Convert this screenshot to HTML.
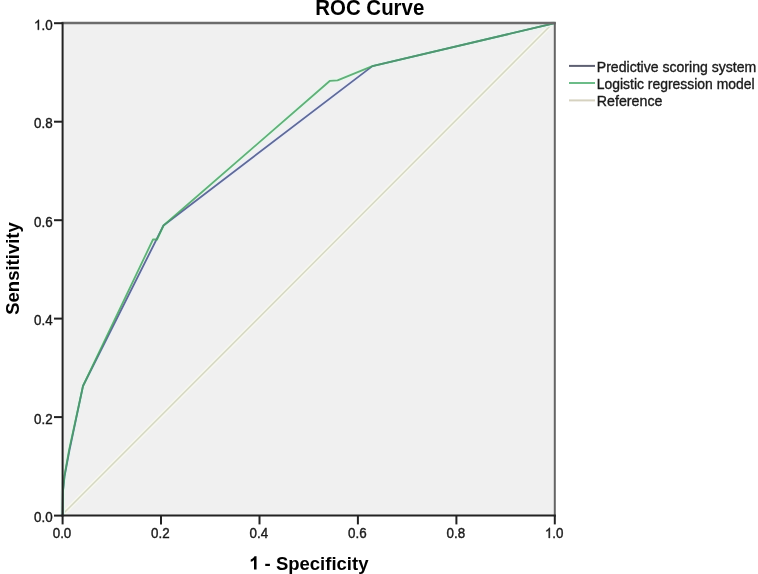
<!DOCTYPE html>
<html>
<head>
<meta charset="utf-8">
<style>
html,body{margin:0;padding:0;background:#fff;}
body{width:758px;height:574px;overflow:hidden;position:relative;font-family:"Liberation Sans", sans-serif;}
svg{position:absolute;left:0;top:0;filter:blur(0.35px);}
text{font-family:"Liberation Sans", sans-serif;}
</style>
</head>
<body>
<svg width="758" height="574" viewBox="0 0 758 574">
  <rect x="62.6" y="23.2" width="492.2" height="492.4" fill="#f0f0f0"/>
  <text x="369.8" y="15.1" font-size="21.5" font-weight="bold" text-anchor="middle" fill="#000" textLength="109" lengthAdjust="spacingAndGlyphs">ROC Curve</text>

  <defs><clipPath id="pc"><rect x="62.6" y="23.2" width="492.2" height="492.4"/></clipPath></defs>
  <g clip-path="url(#pc)">
  <line x1="62.6" y1="514.33" x2="554.8" y2="21.24" stroke="#f7f8ee" stroke-width="4.5"/>
  <line x1="62.6" y1="514.33" x2="554.8" y2="21.24" stroke="#d6d8c4" stroke-width="1.5"/>
  </g>
  <polyline fill="none" stroke="#eceef8" stroke-width="4.5" stroke-linejoin="round" points="62.6,515.6 62.9,492.0 64.6,476.0 69.5,450.0 83.0,386.0 163.5,225.5 372.4,66.1 554.8,23.2"/>
  <polyline fill="none" stroke="#e6f7ec" stroke-width="4.5" stroke-linejoin="round" points="62.6,515.6 62.9,492.0 64.4,476.0 69.1,450.0 83.0,386.0 153.0,239.5 157.0,239.5 163.5,225.5 330.0,80.8 337.5,80.3 372.4,66.1 554.8,23.2"/>
  <polyline fill="none" stroke="#5f6a98" stroke-width="1.8" stroke-linejoin="round" points="62.6,515.6 62.9,492.0 64.6,476.0 69.5,450.0 83.0,386.0 163.5,225.5 372.4,66.1 554.8,23.2"/>
  <polyline fill="none" stroke="#4aa265" stroke-width="1.8" stroke-linejoin="round" stroke-opacity="0.85" points="62.6,515.6 62.9,492.0 64.4,476.0 69.1,450.0 83.0,386.0 153.0,239.5 157.0,239.5 163.5,225.5 330.0,80.8 337.5,80.3 372.4,66.1 554.8,23.2"/>

  <line x1="61.6" y1="23.0" x2="555.8" y2="23.0" stroke="#6c6c6c" stroke-width="2.6"/>
  <line x1="554.8" y1="22.2" x2="554.8" y2="516.6" stroke="#646464" stroke-width="2"/>
  <line x1="62.6" y1="22.2" x2="62.6" y2="516.6" stroke="#222" stroke-width="2"/>
  <line x1="61.6" y1="515.6" x2="555.8" y2="515.6" stroke="#222" stroke-width="2"/>

  <g stroke="#222" stroke-width="2">
    <line x1="54" y1="515.6" x2="62.6" y2="515.6"/>
    <line x1="54" y1="417.1" x2="62.6" y2="417.1"/>
    <line x1="54" y1="318.6" x2="62.6" y2="318.6"/>
    <line x1="54" y1="220.2" x2="62.6" y2="220.2"/>
    <line x1="54" y1="121.7" x2="62.6" y2="121.7"/>
    <line x1="54" y1="23.2" x2="62.6" y2="23.2"/>
    <line x1="62.6" y1="515.6" x2="62.6" y2="524.4"/>
    <line x1="161.0" y1="515.6" x2="161.0" y2="524.4"/>
    <line x1="259.5" y1="515.6" x2="259.5" y2="524.4"/>
    <line x1="357.9" y1="515.6" x2="357.9" y2="524.4"/>
    <line x1="456.4" y1="515.6" x2="456.4" y2="524.4"/>
    <line x1="554.8" y1="515.6" x2="554.8" y2="524.4"/>
  </g>
  <g font-size="14" fill="#1a1a1a" stroke="#1a1a1a" stroke-width="0.4" text-anchor="end">
    <text x="52.6" y="522.2" textLength="18.6" lengthAdjust="spacingAndGlyphs">0.0</text>
    <text x="52.6" y="423.7" textLength="18.6" lengthAdjust="spacingAndGlyphs">0.2</text>
    <text x="52.6" y="325.2" textLength="18.6" lengthAdjust="spacingAndGlyphs">0.4</text>
    <text x="52.6" y="226.8" textLength="18.6" lengthAdjust="spacingAndGlyphs">0.6</text>
    <text x="52.6" y="128.3" textLength="18.6" lengthAdjust="spacingAndGlyphs">0.8</text>
    <text x="52.6" y="29.8" textLength="11.16" lengthAdjust="spacingAndGlyphs">.0</text>
  </g>
  <g font-size="14" fill="#1a1a1a" stroke="#1a1a1a" stroke-width="0.4" text-anchor="middle">
    <text x="62.0" y="537.9" textLength="18.6" lengthAdjust="spacingAndGlyphs">0.0</text>
    <text x="160.4" y="537.9" textLength="18.6" lengthAdjust="spacingAndGlyphs">0.2</text>
    <text x="258.9" y="537.9" textLength="18.6" lengthAdjust="spacingAndGlyphs">0.4</text>
    <text x="357.3" y="537.9" textLength="18.6" lengthAdjust="spacingAndGlyphs">0.6</text>
    <text x="455.8" y="537.9" textLength="18.6" lengthAdjust="spacingAndGlyphs">0.8</text>
    <text x="552.34" y="537.9" textLength="11.16" lengthAdjust="spacingAndGlyphs" text-anchor="start">.0</text>
  </g>
  <text x="264.6" y="569.5" font-size="18.5" font-weight="bold" fill="#000">- Specificity</text>
  <path d="M763 0L583 0L583 1147C540 1106 483 1064 413 1023C343 982 280 951 224 930L224 1104C325 1151 413 1208 488 1275C563 1342 616 1407 647 1466L763 1466Z" transform="translate(34.00,29.80) scale(0.00653,-0.00684)" fill="#1a1a1a" stroke="#1a1a1a" stroke-width="58.5"/><path d="M763 0L583 0L583 1147C540 1106 483 1064 413 1023C343 982 280 951 224 930L224 1104C325 1151 413 1208 488 1275C563 1342 616 1407 647 1466L763 1466Z" transform="translate(544.90,537.90) scale(0.00653,-0.00684)" fill="#1a1a1a" stroke="#1a1a1a" stroke-width="58.5"/><path d="M816 0L535 0L535 1059C432 963 311 892 172 846L172 1101C245 1125 325 1170 411 1236C497 1303 556 1380 588 1466L816 1466Z" transform="translate(249.17,569.50) scale(0.00903,-0.00903)" fill="#000"/>
  <text transform="translate(19,268.5) rotate(-90)" x="0" y="0" font-size="18.5" font-weight="bold" text-anchor="middle" fill="#000">Sensitivity</text>

  <line x1="569" y1="65.9" x2="595" y2="65.9" stroke="#5e6072" stroke-width="2"/>
  <line x1="569" y1="83" x2="595" y2="83" stroke="#6cbc88" stroke-width="2"/>
  <line x1="569" y1="100.4" x2="595" y2="100.4" stroke="#d6d2c0" stroke-width="2"/>
  <g font-size="14.3" fill="#1a1a1a" stroke="#1a1a1a" stroke-width="0.35">
    <text x="596.8" y="71.5" textLength="159.5" lengthAdjust="spacingAndGlyphs">Predictive scoring system</text>
    <text x="596.8" y="89.2" textLength="157.8" lengthAdjust="spacingAndGlyphs">Logistic regression model</text>
    <text x="596.8" y="106.0" textLength="65.6" lengthAdjust="spacingAndGlyphs">Reference</text>
  </g>
</svg>
</body>
</html>
